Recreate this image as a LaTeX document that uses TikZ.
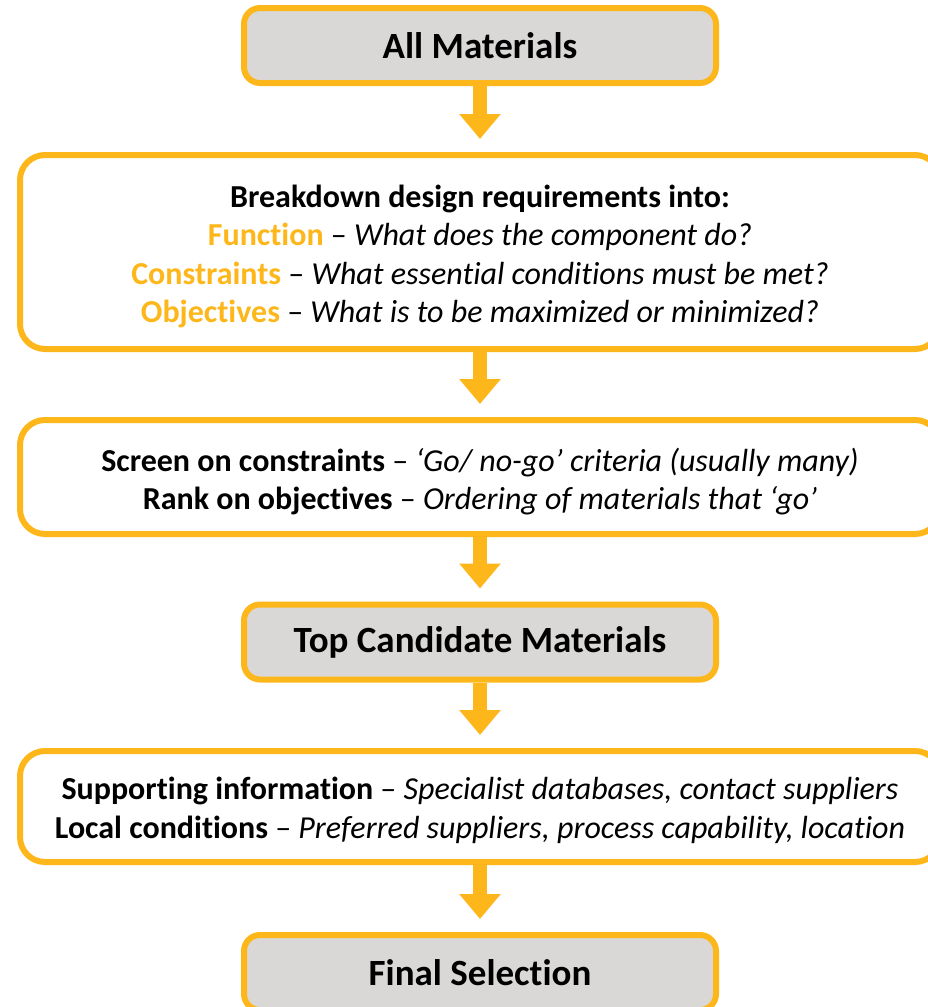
\documentclass[tikz,border=0pt]{standalone}
\usepackage{fontspec}
\setmainfont{Carlito}[Ligatures={TeX,NoCommon}]
\usetikzlibrary{arrows.meta}
\definecolor{amber}{HTML}{FDB71A}
\definecolor{panel}{HTML}{D9D8D6}
\newcommand{\hl}[1]{\textcolor{amber}{\textbf{#1}}}
\begin{document}
\begin{tikzpicture}[x=1pt,y=-1pt,
  stage/.style={draw=amber, line width=6pt, fill=panel, rounded corners=16pt,
    minimum width=472pt, minimum height=75pt, inner sep=0pt,
    font=\fontsize{37}{44}\selectfont\bfseries},
  detailbox/.style={draw=amber, line width=6pt, fill=white, rounded corners=25pt,
    minimum width=920pt, inner sep=0pt},
  detailtext/.style={inner sep=0pt, align=center,
    font=\fontsize{32}{38.5}\selectfont},
  flow/.style={draw=amber, line width=14pt,
    -{Triangle[width=40pt,length=25pt]}, shorten >=13pt}
]
\useasboundingbox (0,0) rectangle (928,1007);
\clip (0,0) rectangle (928,1007);

% stages of the selection procedure
\node[stage] (all) at (480,45.5) {All Materials};

\node[detailbox, minimum height=194pt] (req) at (480,252) {};
\node[detailtext] (reqtext) at ([yshift=-4.5pt]req.center) {%
  \textbf{Breakdown design requirements into:}\\
  \hl{Function} – \textit{What does the component do?}\\
  \hl{Constraints} – \textit{What essential conditions must be met?}\\
  \hl{Objectives} – \textit{What is to be maximized or minimized?}};

\node[detailbox, minimum height=114pt] (screen) at (480,477) {};
\node[detailtext] (screentext) at ([yshift=-4.5pt]screen.center) {%
  \textbf{Screen on constraints} – \textit{‘Go/ no-go’ criteria (usually many)}\\
  \textbf{Rank on objectives} – \textit{Ordering of materials that ‘go’}};

\node[stage] (top) at (480,642) {Top Candidate Materials};

\node[detailbox, minimum height=111pt] (info) at (480,806.5) {};
\node[detailtext] (infotext) at ([yshift=-4pt]info.center) {%
  \textbf{Supporting information} – \textit{Specialist databases, contact suppliers}\\
  \textbf{Local conditions} – \textit{Preferred suppliers, process capability, location}};

\node[stage] (final) at (480,972.5) {Final Selection};

% downward flow arrows
\draw[flow] (all.south) -- (req.north);
\draw[flow] (req.south) -- (screen.north);
\draw[flow] (screen.south) -- (top.north);
\draw[flow] (top.south) -- (info.north);
\draw[flow] (info.south) -- (final.north);
\end{tikzpicture}
\end{document}
